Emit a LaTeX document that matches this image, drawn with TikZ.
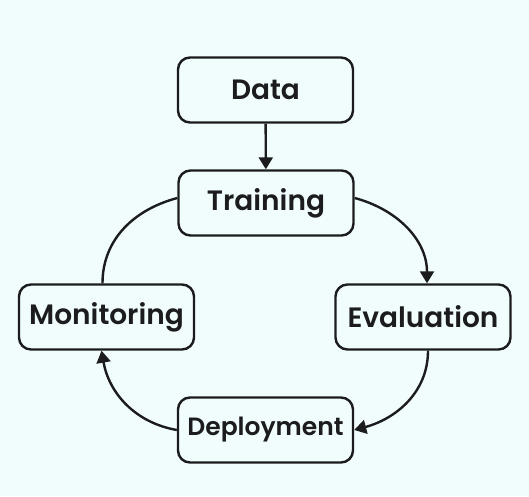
\documentclass[tikz,border=0pt]{standalone}
\usepackage{fontspec}
\setmainfont{Poppins}[BoldFont={Poppins SemiBold}]
\usetikzlibrary{arrows.meta}
\definecolor{bgcyan}{RGB}{241,253,253}
\definecolor{inkgray}{RGB}{28,28,30}
\tikzset{
	stagebox/.style={draw=inkgray,line width=2.4pt,rounded corners=12pt,
		minimum width=175pt,minimum height=65pt,inner sep=0pt,
		text=inkgray,font=\fontsize{28}{30}\selectfont\bfseries},
	narrowtext/.style={font=\fontsize{25}{28}\selectfont\bfseries},
	flow/.style={draw=inkgray,line width=2.4pt,
		-{Triangle[length=12pt,width=14pt]}},
	plain/.style={draw=inkgray,line width=2.4pt}
}
\begin{document}
\begin{tikzpicture}[x=1pt,y=1pt]
	\fill[bgcyan] (0,0) rectangle (529,496); % background, fixes the size
	\useasboundingbox (0,0) rectangle (529,496);
	
	\node[stagebox] (Data)   at (265.5,406) {Data};
	\node[stagebox] (Train)  at (266,293)   {Training};
	\node[stagebox] (Mon)    at (106.5,179) {Monitoring};
	\node[stagebox] (Eval)   at (423,179)   {Evaluation};
	\node[stagebox,narrowtext] (Deploy) at (265.5,66) {Deployment};
	
	\draw[flow] (Data) -- (Train); % straight feed
	% the loop round the four stages
	\draw[flow] ([yshift=5pt]Train.east) to[out=-15,in=90] ([xshift=4pt]Eval.north);
	\draw[flow] ([xshift=5pt]Eval.south) to[out=-90,in=15] (Deploy.east);
	\draw[flow] (Deploy.west) to[out=170,in=-80] ([xshift=-5pt]Mon.south);
	\draw[plain] ([xshift=-4pt]Mon.north) to[out=90,in=195] ([yshift=5pt]Train.west);
	
\end{tikzpicture}
\end{document}
